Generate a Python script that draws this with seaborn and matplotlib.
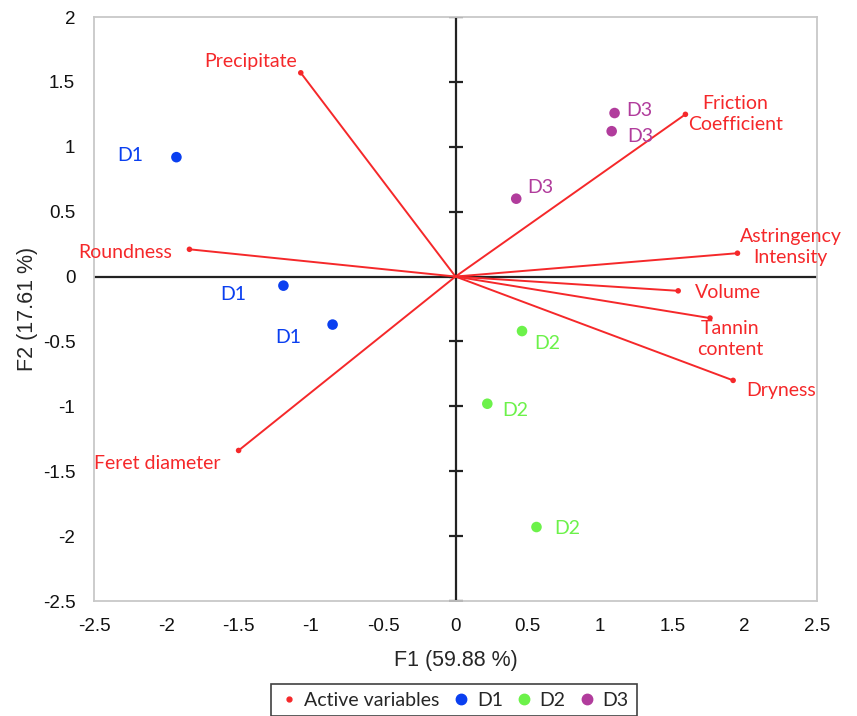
import numpy as np
import pandas as pd
import matplotlib
matplotlib.use('Agg')
import matplotlib.pyplot as plt
import seaborn as sns
from matplotlib.lines import Line2D

# Active variables (loadings on F1 / F2)
var_names = ['Precipitate', 'Friction\nCoefficient', 'Astringency\nIntensity', 'Volume',
             'Tannin\ncontent', 'Dryness', 'Roundness', 'Feret diameter']
var_f1 = [-1.07, 1.59, 1.95, 1.54, 1.76, 1.92, -1.84, -1.50]
var_f2 = [1.57, 1.25, 0.18, -0.11, -0.32, -0.80, 0.21, -1.34]

# Observations
obs_group = ['D1', 'D1', 'D1', 'D2', 'D2', 'D2', 'D3', 'D3', 'D3']
obs_f1 = [-1.93, -1.19, -0.85, 0.46, 0.22, 0.56, 1.10, 1.08, 0.42]
obs_f2 = [0.92, -0.07, -0.37, -0.42, -0.98, -1.93, 1.26, 1.12, 0.60]

x_ticks = [-2.5, -2, -1.5, -1, -0.5, 0, 0.5, 1, 1.5, 2, 2.5]
y_ticks = [-2.5, -2, -1.5, -1, -0.5, 0, 0.5, 1, 1.5, 2]

# label placement (pixel offsets from each mark) -- layout only
var_offsets = [(-4, 11, 'right'), (50, 0, 'center'), (53, 6, 'center'), (17, -2, 'left'),
               (20, -21, 'center'), (13, -10, 'left'), (-17, -3, 'right'), (-18, -13, 'right')]
obs_offsets = [(-33, 2, 'right'), (-37, -9, 'right'), (-31, -13, 'right'),
               (12, -12, 'left'), (15, -7, 'left'), (18, -1, 'left'),
               (12, 3, 'left'), (16, -5, 'left'), (11, 11, 'left')]

red = '#f5282a'
palette = {'D1': '#0a3ff0', 'D2': '#6cf24a', 'D3': '#b13c9c'}

variables = pd.DataFrame({'name': var_names, 'F1': var_f1, 'F2': var_f2})
obs = pd.DataFrame({'group': obs_group, 'F1': obs_f1, 'F2': obs_f2})

sns.set_style('white')
plt.rcParams['font.family'] = ['Liberation Sans', 'DejaVu Sans']

fig = plt.figure(figsize=(8.57, 7.16), dpi=100)
ax = fig.add_axes([94 / 857, 1 - 601 / 716, 723 / 857, 584 / 716])

# center axes
ax.axhline(0, color='#222222', lw=1.6, zorder=1)
ax.axvline(0, color='#222222', lw=1.6, zorder=1)
ax.scatter(np.zeros(len(y_ticks)), y_ticks, marker='_', s=90, color='#222222', lw=1.6, zorder=1)

# loading vectors
for _, r in variables.iterrows():
    ax.plot([0, r['F1']], [0, r['F2']], color=red, lw=1.4, zorder=2)
sns.scatterplot(data=variables, x='F1', y='F2', color=red, s=16, edgecolor='none', ax=ax, zorder=3)

sns.scatterplot(data=obs, x='F1', y='F2', hue='group', palette=palette, s=58,
                edgecolor='none', ax=ax, legend=False, zorder=4)

lab_font = ['Lato', 'DejaVu Sans']
for (_, r), (dx, dy, ha) in zip(variables.iterrows(), var_offsets):
    ax.annotate(r['name'], (r['F1'], r['F2']), xytext=(dx * 0.72, dy * 0.72),
                textcoords='offset points', ha=ha, va='center', multialignment='center',
                color=red, fontsize=14, family=lab_font, linespacing=1.3, zorder=5)

for (_, r), (dx, dy, ha) in zip(obs.iterrows(), obs_offsets):
    ax.annotate(r['group'], (r['F1'], r['F2']), xytext=(dx * 0.72, dy * 0.72),
                textcoords='offset points', ha=ha, va='center',
                color=palette[r['group']], fontsize=14, family=lab_font, zorder=5)

ax.set_xlim(-2.5, 2.5)
ax.set_ylim(-2.5, 2)
ax.set_xticks(x_ticks)
ax.set_yticks(y_ticks)
ax.set_xticklabels([f'{t:g}' for t in x_ticks])
ax.set_yticklabels([f'{t:g}' for t in y_ticks])
ax.tick_params(length=0, labelsize=13.5, colors='#111111')
ax.tick_params(axis='y', pad=13.5)
ax.tick_params(axis='x', pad=12)
for s in ax.spines.values():
    s.set_color('#c8c8c8')
    s.set_linewidth(1.3)

ax.set_xlabel('F1 (59.88 %)', fontsize=15.5, labelpad=11)
ax.set_ylabel('F2 (17.61 %)', fontsize=15.5, labelpad=3)

handles = [Line2D([], [], ls='', marker='o', color=red, markersize=3.5, label='Active variables')]
for g in ['D1', 'D2', 'D3']:
    handles.append(Line2D([], [], ls='', marker='o', color=palette[g], markersize=7.5, label=g))
leg = fig.legend(handles=handles, loc='upper center', bbox_to_anchor=(454 / 857, 1 - 674 / 716),
                 ncol=4, frameon=True, handlelength=1.0, handletextpad=0.3, columnspacing=0.6,
                 borderpad=0.4, fancybox=False, prop={'family': 'Lato', 'size': 14})
leg.get_frame().set_edgecolor('#111111')
leg.get_frame().set_linewidth(1.2)

plt.savefig('out.png', dpi=100)
